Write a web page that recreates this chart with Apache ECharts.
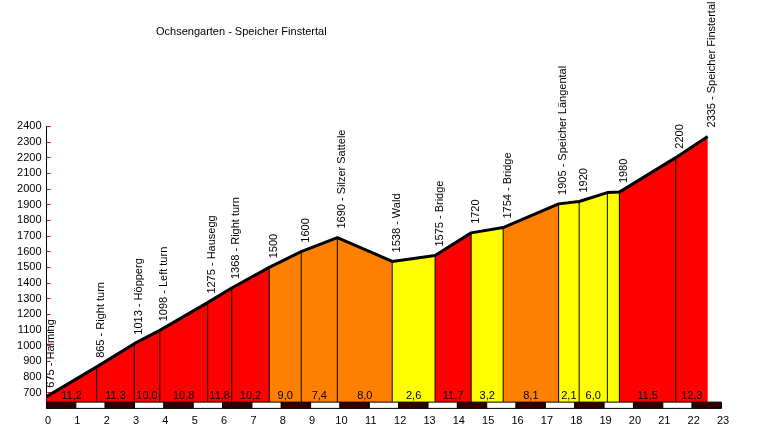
<!DOCTYPE html>
<html>
<head>
<meta charset="utf-8">
<script src="https://cdn.jsdelivr.net/npm/echarts@6/dist/echarts.min.js"></script>
<style>
html, body { margin: 0; padding: 0; background: #fff; }
#main { width: 780px; height: 434px; }
</style>
</head>
<body>
<div id="main"></div>
<script>
// profile points (km, altitude, label)
var km = [0, 1.71, 2.99, 3.86, 5.49, 6.31, 7.59, 8.68, 9.91, 11.78, 13.24, 14.47, 15.56, 17.45, 18.15, 19.11, 19.52, 21.44, 22.53];
var elevation = [675, 865, 1013, 1098, 1275, 1368, 1500, 1600, 1690, 1538, 1575, 1720, 1754, 1905, 1920, 1977, 1980, 2200, 2335];
var pointNames = ['675 - Halming', '865 - Right turn', '1013 - Höpperg', '1098 - Left turn', '1275 - Hausegg',
    '1368 - Right turn', '1500', '1600', '1690 - Silzer Sattele', '1538 - Wald', '1575 - Bridge', '1720',
    '1754 - Bridge', '1905 - Speicher Längental', '1920', '', '1980', '2200', '2335 - Speicher Finstertal'];

// gradient per segment (%), label text shown under the profile
var grades = [11.2, 11.3, 10.0, 10.8, 11.8, 10.2, 9.0, 7.4, 8.0, 2.6, 11.7, 3.2, 8.1, 2.1, 6.0, 0.7, 11.5, 12.3];
var gradeLabels = ['11,2', '11,3', '10,0', '10,8', '11,8', '10,2', '9,0', '7,4', '8,0', '2,6', '11,7', '3,2', '8,1', '2,1', '6,0', '', '11,5', '12,3'];

// km scale under the chart
var kmBlocks = [0, 1, 2, 3, 4, 5, 6, 7, 8, 9, 10, 11, 12, 13, 14, 15, 16, 17, 18, 19, 20, 21, 22];

var FONT = '11px "Liberation Sans", Arial, sans-serif';
var BASE = 640;   // bottom of the coloured area
var BAR_LOW = 600;

function gradeColor(g) {
    if (g >= 10) return '#ff0000';
    if (g >= 7) return '#ff8000';
    return '#ffff00';
}

var segData = [];
for (var i = 0; i < grades.length; i++) {
    segData.push([km[i], elevation[i], km[i + 1], elevation[i + 1], grades[i], i]);
}
var pointData = [];
for (var i = 0; i < km.length; i++) {
    pointData.push([km[i], elevation[i], i]);
}

var myChart = echarts.init(document.getElementById('main'));

var option = {
    animation: false,
    backgroundColor: '#fff',
    title: {
        text: 'Ochsengarten - Speicher Finstertal',
        left: 151,
        top: 21,
        textStyle: { fontSize: 11, fontWeight: 'normal', color: '#000', fontFamily: '"Liberation Sans", Arial, sans-serif' }
    },
    grid: { left: 46.5, right: 58.5, top: 126.3, bottom: 25.6 },
    xAxis: {
        type: 'value',
        min: 0, max: 23, interval: 1,
        axisLine: { show: false },
        axisTick: { show: false },
        splitLine: { show: false },
        axisLabel: { color: '#000', fontSize: 11, margin: 7, padding: [0, 0, 0, 3], fontFamily: '"Liberation Sans", Arial, sans-serif' }
    },
    yAxis: {
        type: 'value',
        min: BAR_LOW, max: 2400, interval: 100,
        axisLine: { show: true, lineStyle: { color: '#000', width: 1 } },
        axisTick: { show: true, inside: true, length: 4, lineStyle: { color: '#ff0000' } },
        splitLine: { show: false },
        axisLabel: {
            color: '#000', fontSize: 11, margin: 5, fontFamily: '"Liberation Sans", Arial, sans-serif',
            formatter: function (v) { return v < 700 ? '' : v; }
        }
    },
    series: [
        // coloured areas per segment
        {
            type: 'custom',
            z: 2,
            silent: true,
            data: segData,
            renderItem: function (params, api) {
                var p1 = api.coord([api.value(0), api.value(1)]);
                var p2 = api.coord([api.value(2), api.value(3)]);
                var b1 = api.coord([api.value(0), BASE]);
                var b2 = api.coord([api.value(2), BASE]);
                return {
                    type: 'polygon',
                    shape: { points: [b1, p1, p2, b2] },
                    style: { fill: gradeColor(api.value(4)), stroke: null }
                };
            }
        },
        // thin separators at every point
        {
            type: 'custom',
            z: 3,
            silent: true,
            data: pointData,
            renderItem: function (params, api) {
                var idx = api.value(2);
                if (idx === 0 || idx === km.length - 1) return;
                var top = api.coord([api.value(0), api.value(1)]);
                var bot = api.coord([api.value(0), BASE]);
                return {
                    type: 'line',
                    shape: { x1: top[0], y1: top[1], x2: bot[0], y2: bot[1] },
                    style: { stroke: '#000', lineWidth: 1 }
                };
            }
        },
        // profile line
        {
            type: 'line',
            z: 5,
            silent: true,
            symbol: 'none',
            data: pointData.map(function (d) { return [d[0], d[1]]; }),
            lineStyle: { color: '#000', width: 3 }
        },
        // gradient labels
        {
            type: 'custom',
            z: 6,
            silent: true,
            data: segData,
            renderItem: function (params, api) {
                var a = api.coord([api.value(0), BASE]);
                var b = api.coord([api.value(2), BASE]);
                return {
                    type: 'text',
                    x: (a[0] + b[0]) / 2,
                    y: a[1] - 1,
                    style: { text: gradeLabels[api.value(5)], font: FONT, fill: '#000', align: 'center', verticalAlign: 'bottom' }
                };
            }
        },
        // rotated point names
        {
            type: 'custom',
            z: 6,
            silent: true,
            data: pointData,
            renderItem: function (params, api) {
                var p = api.coord([api.value(0), api.value(1)]);
                return {
                    type: 'text',
                    x: p[0] - 1,
                    y: p[1] - 9,
                    rotation: Math.PI / 2,
                    style: { text: pointNames[api.value(2)], font: FONT, fill: '#000', align: 'left', verticalAlign: 'top' }
                };
            }
        },
        // km bar
        {
            type: 'custom',
            z: 7,
            silent: true,
            data: kmBlocks,
            renderItem: function (params, api) {
                var k = api.value(0);
                var a = api.coord([k, BASE]);
                var b = api.coord([k + 1, BAR_LOW]);
                return {
                    type: 'rect',
                    shape: { x: a[0], y: a[1], width: b[0] - a[0], height: b[1] - a[1] },
                    style: { fill: k % 2 === 0 ? '#330000' : '#ffffff', stroke: '#000', lineWidth: 1 }
                };
            }
        }
    ]
};
myChart.setOption(option);
</script>
</body>
</html>
